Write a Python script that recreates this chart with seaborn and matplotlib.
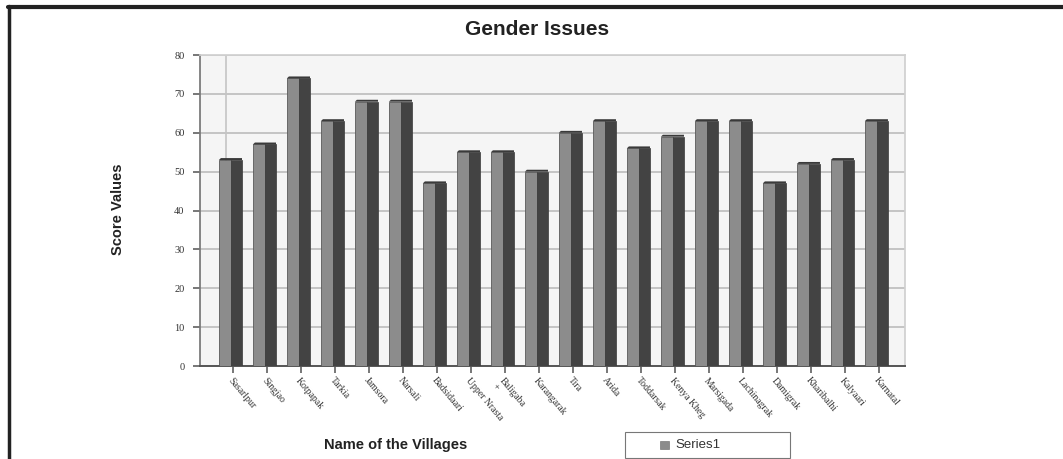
import matplotlib
matplotlib.use("Agg")
import matplotlib.pyplot as plt
from matplotlib.patches import Rectangle, Polygon
import seaborn as sns
import pandas as pd

villages = ["Sasarlpur", "Singjao", "Kotpapak", "Tarkia", "Jamsora", "Narsali",
            "Badsidaari", "Upper Nrasta", "Baligaba\n+", "Karangarak", "Tira", "Arida",
            "Toddarsak", "Kenya Kheg", "Marsigada", "Lachinagrak", "Damigrak",
            "Kharibalhi", "Kalyaari", "Karnatal"]
scores = [53, 57, 74, 63, 68, 68, 47, 55, 55, 50, 60, 63, 56, 59, 63, 63, 47, 52, 53, 63]
y_ticks = [0, 10, 20, 30, 40, 50, 60, 70, 80]

df = pd.DataFrame({"village": villages, "score": scores})

sns.set_theme(style="white")
plt.rcParams["font.family"] = ["DejaVu Sans"]

fig = plt.figure(figsize=(10.63, 4.59), dpi=100)
ax = fig.add_axes([0.188, 0.2026, 0.663, 0.6774])
ax.set_facecolor("#f5f5f5")

front_w = 0.36
side_w = 0.32
sns.barplot(data=df, x="village", y="score", color="#8c8c8c", width=front_w,
            saturation=1, ax=ax, zorder=3, linewidth=0.6, edgecolor="#5a5a5a")

# shift front faces left and add dark side faces to give a 3-D look
for p in ax.patches:
    x0 = p.get_x() - front_w / 2 - 0.05
    p.set_x(x0)
    h = p.get_height()
    ax.add_patch(Rectangle((x0 + front_w, 0), side_w, h, facecolor="#434343",
                           edgecolor="#3a3a3a", linewidth=0.5, zorder=3))
    ax.add_patch(Polygon([(x0, h), (x0 + 0.06, h + 0.5), (x0 + front_w + side_w, h + 0.5),
                          (x0 + front_w + side_w, h), (x0 + front_w, h)],
                         closed=True, facecolor="#3a3a3a", edgecolor="none", zorder=3))

ax.set_xlim(-0.97, 19.76)
ax.set_ylim(0, 80)
ax.set_yticks(y_ticks)
ax.set_yticklabels([str(v) for v in y_ticks], family="Liberation Serif", fontsize=7.5, color="#333333")
ax.yaxis.grid(True, color="#c4c4c4", linewidth=1.4, zorder=0)
ax.axvline(-0.2, color="#c4c4c4", linewidth=1.2, zorder=1)
ax.tick_params(axis="y", length=5, color="#666666", left=True, pad=6)
ax.tick_params(axis="x", length=5, color="#666666", bottom=True, pad=2)
ax.set_xticks(range(len(villages)))
ax.set_xticklabels(villages, rotation=-50, ha="left", rotation_mode="anchor",
                   family="Liberation Serif", fontsize=7, color="#333333")

for s in ["top", "right"]:
    ax.spines[s].set_color("#d0d0d0")
ax.spines["left"].set_color("#777777")
ax.spines["bottom"].set_color("#555555")
ax.spines["bottom"].set_linewidth(1.4)

ax.set_xlabel("")
ax.set_ylabel("")
fig.text(0.505, 0.936, "Gender Issues", ha="center", va="center",
         fontsize=15, fontweight="bold", color="#222222", family="Liberation Sans")
fig.text(0.111, 0.545, "Score Values", rotation=90, ha="center", va="center",
         fontsize=10.5, fontweight="bold", color="#222222", family="Liberation Sans")
fig.text(0.372, 0.03, "Name of the Villages", ha="center", va="center",
         fontsize=10.5, fontweight="bold", color="#222222", family="Liberation Sans")

# legend box
lx0, ly0, lw, lh = 625 / 1063, 1 - 458 / 459, 165 / 1063, 26 / 459
fig.patches.append(Rectangle((lx0, ly0), lw, lh, transform=fig.transFigure,
                             facecolor="white", edgecolor="#777777", linewidth=0.8))
fig.patches.append(Rectangle((lx0 + 0.033, ly0 + 0.02), 0.008, 0.018, transform=fig.transFigure,
                             facecolor="#8c8c8c", edgecolor="#666666", linewidth=0.4))
fig.text(lx0 + 0.047, ly0 + 0.028, "Series1", ha="left", va="center",
         fontsize=9.5, color="#333333", family="Liberation Sans")

# outer frame lines
fig.add_artist(plt.Line2D([8 / 1063, 1], [1 - 7 / 459, 1 - 7 / 459], transform=fig.transFigure,
                          color="#222222", linewidth=3))
fig.add_artist(plt.Line2D([9 / 1063, 9 / 1063], [0, 1 - 6 / 459], transform=fig.transFigure,
                          color="#222222", linewidth=2.5))

fig.savefig("out.png", dpi=100, facecolor="white")
